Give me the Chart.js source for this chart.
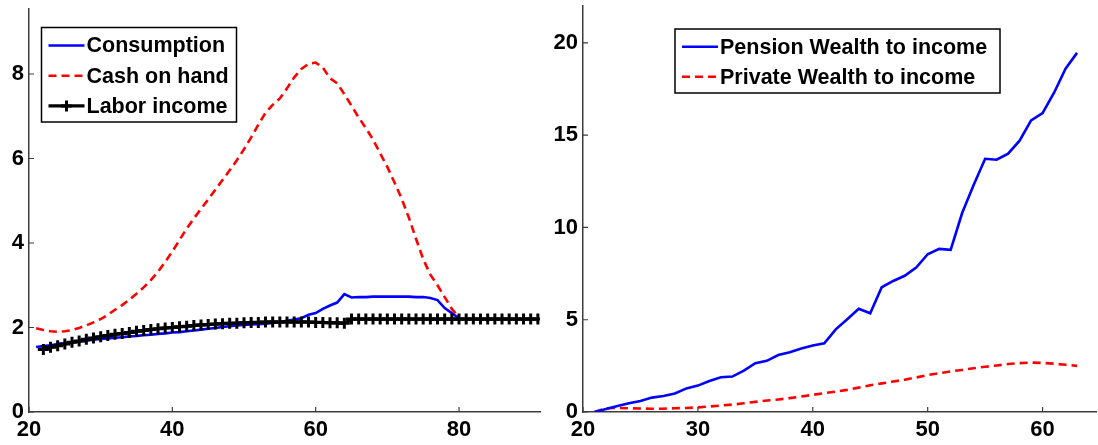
<!DOCTYPE html>
<html lang="en">
<head>
  <meta charset="UTF-8">
  <title>Life-cycle profiles</title>
  <script src="https://cdn.jsdelivr.net/npm/chart.js"></script>
  <style>
    html, body { margin: 0; padding: 0; background: #fff; }
    #wrap { position: relative; width: 1098px; height: 445px; }
    .panel { position: absolute; top: 0; width: 549px; height: 445px; }
  </style>
</head>
<body>
  <div id="wrap">
    <div class="panel" style="left:0"><canvas id="leftChart"></canvas></div>
    <div class="panel" style="left:549px"><canvas id="rightChart"></canvas></div>
  </div>

  <script>
    // ---- left panel: ages 21..80 / 22..91
    const consStart = 21;
    const consumption = [1.54, 1.56, 1.58, 1.61, 1.63, 1.65, 1.67, 1.69, 1.71, 1.73,
      1.74, 1.76, 1.77, 1.79, 1.80, 1.82, 1.83, 1.85, 1.86, 1.88,
      1.89, 1.91, 1.93, 1.95, 1.97, 1.99, 2.01, 2.03, 2.05, 2.06,
      2.07, 2.08, 2.09, 2.11, 2.13, 2.16, 2.19, 2.22, 2.30, 2.34,
      2.44, 2.52, 2.59, 2.79, 2.71, 2.72, 2.72, 2.73, 2.73, 2.73,
      2.73, 2.73, 2.73, 2.72, 2.72, 2.70, 2.65, 2.46, 2.34, 2.22];

    const cashStart = 21;
    const cashOnHand = [1.98, 1.94, 1.91, 1.90, 1.91, 1.94, 1.99, 2.05, 2.12, 2.20,
      2.30, 2.42, 2.53, 2.66, 2.80, 2.95, 3.12, 3.32, 3.55, 3.80,
      4.07, 4.34, 4.58, 4.81, 5.03, 5.26, 5.49, 5.72, 5.96, 6.22,
      6.50, 6.80, 7.08, 7.27, 7.42, 7.66, 7.92, 8.12, 8.24, 8.27,
      8.15, 7.90, 7.78, 7.52, 7.25, 6.97, 6.72, 6.45, 6.12, 5.80,
      5.43, 5.05, 4.60, 4.10, 3.62, 3.25, 3.00, 2.72, 2.44, 2.24];

    const laborStart = 22;
    const laborIncome = [1.48, 1.53, 1.57, 1.61, 1.65, 1.68, 1.72, 1.75, 1.78, 1.81,
      1.84, 1.86, 1.88, 1.91, 1.93, 1.95, 1.97, 1.99, 2.00, 2.02,
      2.03, 2.05, 2.06, 2.07, 2.08, 2.09, 2.10, 2.10, 2.11, 2.12,
      2.12, 2.13, 2.13, 2.13, 2.13, 2.13, 2.13, 2.13, 2.12, 2.12,
      2.11, 2.11, 2.10,
      2.20, 2.20, 2.20, 2.20, 2.20, 2.20, 2.20, 2.20, 2.20, 2.20,
      2.20, 2.20, 2.20, 2.20, 2.20, 2.20, 2.20, 2.20, 2.20, 2.20,
      2.20, 2.20, 2.20, 2.20, 2.20, 2.20, 2.20];

    const leftXTicks = [20, 40, 60, 80];
    const leftYTicks = [0, 2, 4, 6, 8];

    // ---- right panel: ages 21..63
    const wealthStart = 21;
    const pensionWealth = [0, 0.16, 0.33, 0.47, 0.60, 0.78, 0.87, 1.00, 1.28, 1.43,
      1.68, 1.88, 1.92, 2.24, 2.64, 2.77, 3.09, 3.24, 3.44, 3.60,
      3.72, 4.48, 5.03, 5.59, 5.35, 6.76, 7.10, 7.38, 7.83, 8.55,
      8.84, 8.79, 10.78, 12.30, 13.72, 13.67, 14.00, 14.70, 15.80, 16.20,
      17.30, 18.60, 19.46];
    const privateWealth = [0, 0.20, 0.22, 0.20, 0.19, 0.18, 0.18, 0.20, 0.22, 0.25,
      0.30, 0.35, 0.40, 0.47, 0.55, 0.62, 0.68, 0.75, 0.84, 0.93,
      1.02, 1.10, 1.20, 1.32, 1.45, 1.55, 1.65, 1.75, 1.87, 2.00,
      2.10, 2.20, 2.28, 2.37, 2.45, 2.52, 2.60, 2.65, 2.68, 2.66,
      2.62, 2.56, 2.50];

    const rightXTicks = [20, 30, 40, 50, 60];
    const rightYTicks = [0, 5, 10, 15, 20];

    const toPoints = (start, ys) => ys.map((y, i) => ({ x: start + i, y: y }));

    const FONT = '"Liberation Sans", Arial, Helvetica, sans-serif';
    const AXIS_COLOR = '#3c3c3c';

    // axis lines only on left/bottom, with short ticks pointing into the plot
    const innerTicks = {
      id: 'innerTicks',
      afterDraw(chart) {
        const { ctx, chartArea: a, scales } = chart;
        ctx.save();
        ctx.strokeStyle = AXIS_COLOR;
        ctx.lineWidth = 1.2;
        ctx.beginPath();
        scales.x.ticks.forEach(t => {
          const px = scales.x.getPixelForValue(t.value);
          ctx.moveTo(px, a.bottom);
          ctx.lineTo(px, a.bottom - 5);
        });
        scales.y.ticks.forEach(t => {
          const py = scales.y.getPixelForValue(t.value);
          ctx.moveTo(a.left, py);
          ctx.lineTo(a.left + 5, py);
        });
        ctx.stroke();
        ctx.restore();
      }
    };

    // boxed legend inside the plot area
    const boxLegend = {
      id: 'boxLegend',
      afterDatasetsDraw(chart, args, opts) {
        const { ctx } = chart;
        const { left, top, width, height, firstRow, rowGap } = opts;
        ctx.save();
        ctx.fillStyle = '#fff';
        ctx.fillRect(left, top, width, height);
        ctx.strokeStyle = '#000';
        ctx.lineWidth = 1.5;
        ctx.strokeRect(left, top, width, height);

        opts.items.forEach((name, i) => {
          const ds = chart.data.datasets.find(d => d.label === name);
          const y = top + firstRow + i * rowGap;
          const x0 = left + 7, x1 = left + 43;
          ctx.strokeStyle = ds.borderColor;
          ctx.lineWidth = ds.borderWidth;
          ctx.setLineDash(ds.borderDash || []);
          ctx.beginPath();
          ctx.moveTo(x0, y);
          ctx.lineTo(x1, y);
          ctx.stroke();
          ctx.setLineDash([]);
          if (ds.pointRadius > 0) {
            const xm = (x0 + x1) / 2, r = ds.pointRadius;
            ctx.lineWidth = ds.pointBorderWidth;
            ctx.beginPath();
            ctx.moveTo(xm - r, y); ctx.lineTo(xm + r, y);
            ctx.moveTo(xm, y - r); ctx.lineTo(xm, y + r);
            ctx.stroke();
          }
          ctx.fillStyle = '#000';
          ctx.font = 'bold 21.5px ' + FONT;
          ctx.textBaseline = 'middle';
          ctx.textAlign = 'left';
          ctx.fillText(name, left + 45, y + 1);
        });
        ctx.restore();
      }
    };

    function axes(xMax, yMax, xTicks, yTicks, yWidth) {
      const tickFont = { family: FONT, size: 22, weight: 'bold' };
      // drop the label overhang padding so the plot box fills the canvas
      const noPad = s => { s.paddingTop = 0; s.paddingBottom = 0; s.paddingLeft = 0; s.paddingRight = 0; };
      return {
        x: {
          type: 'linear', min: 20, max: xMax,
          afterBuildTicks: s => { s.ticks = xTicks.map(v => ({ value: v })); },
          afterFit: s => { s.height = 33; noPad(s); },
          grid: { display: false, drawTicks: false },
          border: { display: true, color: AXIS_COLOR, width: 1.5 },
          ticks: { color: '#000', font: tickFont, padding: 5, maxRotation: 0 }
        },
        y: {
          type: 'linear', min: 0, max: yMax,
          afterBuildTicks: s => { s.ticks = yTicks.map(v => ({ value: v })); },
          afterFit: s => { s.width = yWidth; noPad(s); },
          grid: { display: false, drawTicks: false },
          border: { display: true, color: AXIS_COLOR, width: 1.5 },
          ticks: { color: '#000', font: tickFont, padding: 5 }
        }
      };
    }

    const common = {
      responsive: true,
      maintainAspectRatio: false,
      animation: false,
      events: [],
      elements: { line: { tension: 0 } }
    };

    new Chart(document.getElementById('leftChart'), {
      type: 'line',
      data: {
        datasets: [
          {
            label: 'Labor income', order: 0,
            data: toPoints(laborStart, laborIncome),
            borderColor: '#000', borderWidth: 3.2,
            pointStyle: 'cross', pointRadius: 5.5, pointBorderWidth: 3,
            pointBorderColor: '#000'
          },
          {
            label: 'Cash on hand', order: 1,
            data: toPoints(cashStart, cashOnHand),
            borderColor: '#ff0000', borderWidth: 2.6, borderDash: [8, 5],
            pointRadius: 0
          },
          {
            label: 'Consumption', order: 2,
            data: toPoints(consStart, consumption),
            borderColor: '#0000ff', borderWidth: 2.6,
            pointRadius: 0
          }
        ]
      },
      options: Object.assign({}, common, {
        layout: { padding: { top: 6, right: 9, left: 0, bottom: 0 } },
        scales: axes(91.3, 9.55, leftXTicks, leftYTicks, 29),
        plugins: {
          legend: { display: false },
          tooltip: { enabled: false },
          boxLegend: {
            left: 41.5, top: 27.5, width: 195, height: 94.5,
            firstRow: 18, rowGap: 30.2,
            items: ['Consumption', 'Cash on hand', 'Labor income']
          }
        }
      }),
      plugins: [innerTicks, boxLegend]
    });

    new Chart(document.getElementById('rightChart'), {
      type: 'line',
      data: {
        datasets: [
          {
            label: 'Pension Wealth to income', order: 0,
            data: toPoints(wealthStart, pensionWealth),
            borderColor: '#0000ff', borderWidth: 2.6,
            pointRadius: 0
          },
          {
            label: 'Private Wealth to income', order: 1,
            data: toPoints(wealthStart, privateWealth),
            borderColor: '#ff0000', borderWidth: 2.6, borderDash: [8, 5],
            pointRadius: 0
          }
        ]
      },
      options: Object.assign({}, common, {
        layout: { padding: { top: 6, right: 2, left: 0, bottom: 0 } },
        scales: axes(64.65, 22, rightXTicks, rightYTicks, 34),
        plugins: {
          legend: { display: false },
          tooltip: { enabled: false },
          boxLegend: {
            left: 126, top: 29, width: 325, height: 64,
            firstRow: 17.7, rowGap: 30,
            items: ['Pension Wealth to income', 'Private Wealth to income']
          }
        }
      }),
      plugins: [innerTicks, boxLegend]
    });
  </script>
</body>
</html>
